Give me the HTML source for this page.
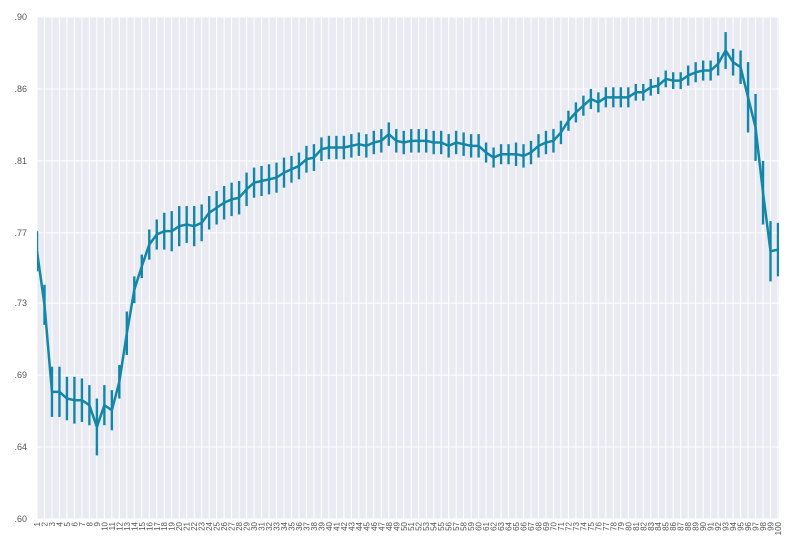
<!DOCTYPE html>
<html><head><meta charset="utf-8"><style>
body{margin:0;background:#fff;}
svg{display:block;font-family:"Liberation Sans",sans-serif;}
</style></head><body>
<svg id="chart" width="800" height="550"></svg>
<script>
const categories = Array.from({length:100},(_,i)=>String(i+1));
const meanValues = [0.760,0.728,0.676,0.676,0.672,0.671,0.671,0.668,0.655,0.668,
0.665,0.682,0.711,0.737,0.751,0.764,0.770,0.772,0.772,0.775,
0.776,0.775,0.777,0.783,0.786,0.789,0.791,0.792,0.797,0.801,
0.802,0.803,0.804,0.807,0.809,0.811,0.815,0.816,0.821,0.822,
0.822,0.822,0.823,0.824,0.823,0.825,0.826,0.830,0.826,0.825,
0.826,0.826,0.826,0.825,0.825,0.823,0.825,0.824,0.823,0.823,
0.819,0.816,0.818,0.818,0.818,0.817,0.819,0.823,0.825,0.826,
0.831,0.838,0.843,0.847,0.851,0.849,0.852,0.852,0.852,0.852,
0.855,0.855,0.858,0.859,0.863,0.862,0.862,0.865,0.867,0.868,
0.868,0.872,0.880,0.873,0.870,0.852,0.834,0.795,0.760,0.761];
const errValues = [0.012,0.012,0.015,0.015,0.013,0.014,0.013,0.012,0.017,0.012,
0.012,0.010,0.013,0.008,0.007,0.009,0.009,0.011,0.012,0.012,
0.011,0.012,0.011,0.010,0.010,0.010,0.010,0.010,0.010,0.009,
0.009,0.009,0.009,0.009,0.008,0.008,0.008,0.008,0.007,0.007,
0.007,0.007,0.007,0.007,0.007,0.007,0.007,0.007,0.007,0.007,
0.007,0.007,0.007,0.007,0.007,0.007,0.007,0.007,0.007,0.007,
0.006,0.006,0.006,0.006,0.007,0.007,0.007,0.007,0.007,0.007,
0.007,0.006,0.006,0.006,0.006,0.006,0.006,0.006,0.006,0.006,
0.005,0.005,0.005,0.005,0.005,0.005,0.005,0.006,0.006,0.006,
0.006,0.007,0.011,0.008,0.010,0.021,0.020,0.019,0.018,0.016];
const yTicks = [0.60,0.643,0.686,0.729,0.771,0.814,0.857,0.90];
const yTickLabels = [".60",".64",".69",".73",".77",".81",".86",".90"];

const svg=document.getElementById('chart');
const NS='http://www.w3.org/2000/svg';
const L=37,R=779,T=17,B=519,yMin=0.6,yMax=0.9;
const xS=i=>L+(R-1-L)*i/(categories.length-1);
const yS=v=>B-(v-yMin)/(yMax-yMin)*(B-T);
function mk(tag,attrs,parent){const e=document.createElementNS(NS,tag);for(const k in attrs)e.setAttribute(k,attrs[k]);(parent||svg).appendChild(e);return e;}

const bg=mk('rect',{x:L,y:T,width:R-L,height:B-T,fill:'#EAEAF2'});


const defs=mk('defs',{});const cp=mk('clipPath',{id:'clip'},defs);mk('rect',{x:L,y:T,width:R-L,height:B-T},cp);

const grid=mk('g',{stroke:'#fff','stroke-width':1});


categories.forEach((c,i)=>{mk('line',{x1:xS(i),x2:xS(i),y1:T,y2:B},grid);});
yTicks.forEach(v=>{mk('line',{x1:L,x2:R,y1:yS(v),y2:yS(v)},grid);});

const yAx=mk('g',{'font-size':9,fill:'#555','text-anchor':'end'});


yTicks.forEach((v,i)=>{const t=mk('text',{x:27,y:yS(v)+3},yAx);t.textContent=yTickLabels[i];

});

const xAx=mk('g',{'font-size':8,fill:'#555','text-anchor':'end'});


categories.forEach((c,i)=>{const x=xS(i)+3,y=522;const t=mk('text',{x:x,y:y,transform:`rotate(-90 ${x} ${y})`},xAx);t.textContent=c;

});

const series=mk('g',{'clip-path':'url(#clip)'});


meanValues.forEach((v,i)=>{const e=mk('line',{x1:xS(i),x2:xS(i),y1:yS(v-errValues[i]),y2:yS(v+errValues[i]),stroke:'#1287A8','stroke-width':2.4},series);

});
const p=mk('polyline',{points:meanValues.map((v,i)=>xS(i)+','+yS(v)).join(' '),fill:'none',stroke:'#1287A8','stroke-width':2.5,'stroke-linejoin':'round'},series);


</script>
</body></html>
